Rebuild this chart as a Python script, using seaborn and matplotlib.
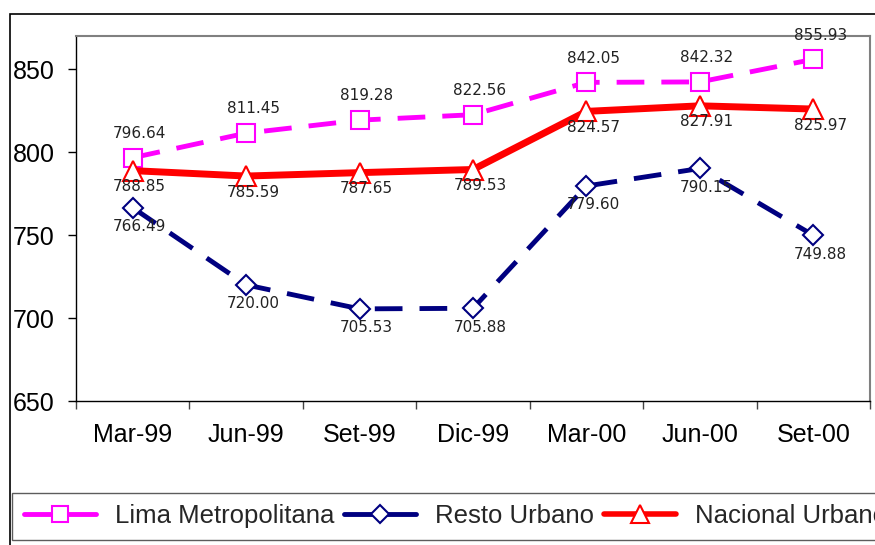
import matplotlib
matplotlib.use("Agg")
import matplotlib.pyplot as plt
import seaborn as sns
import pandas as pd
from matplotlib.lines import Line2D
from matplotlib.patches import Rectangle

# ---------------- data ----------------
periods = ["Mar-99", "Jun-99", "Set-99", "Dic-99", "Mar-00", "Jun-00", "Set-00"]
lima = [796.64, 811.45, 819.28, 822.56, 842.05, 842.32, 855.93]
resto = [766.49, 720.00, 705.53, 705.88, 779.60, 790.15, 749.88]
nacional = [788.85, 785.59, 787.65, 789.53, 824.57, 827.91, 825.97]
series_names = ["Lima Metropolitana", "Resto Urbano", "Nacional Urbano"]
y_ticks = [650, 700, 750, 800, 850]
title_text = "(Nuevos Soles)"

# ---------------- style ----------------
sns.set_theme(style="white")
plt.rcParams["font.family"] = ["Liberation Sans", "DejaVu Sans"]

W, H = 875, 545
fig = plt.figure(figsize=(W / 100, H / 100), dpi=100)
fig.patch.set_facecolor("white")
ax = fig.add_axes([76 / W, 1 - 401 / H, 794 / W, 365 / H])

xpos = list(range(len(periods)))
series_vals = [lima, resto, nacional]
styles = [
    dict(color="#FF00FF", marker="s", ms=13.5, lw=3.5, ls=(0, (5.7, 3.5)), dy=17.5, leg_lw=3.5, leg_ms=12),
    dict(color="#000080", marker="D", ms=10, lw=3.5, ls=(0, (5.7, 3.5)), dy=-13.5, leg_lw=3.5, leg_ms=9),
    dict(color="#FF0000", marker="^", ms=15, lw=5, ls="-", dy=-11.5, leg_lw=4, leg_ms=13),
]

for name, vals, st in zip(series_names, series_vals, styles):
    df = pd.DataFrame({"x": xpos, "y": vals})
    sns.lineplot(data=df, x="x", y="y", ax=ax, color=st["color"],
                 linewidth=st["lw"], linestyle=st["ls"], marker=st["marker"],
                 markersize=st["ms"], markerfacecolor="white",
                 markeredgecolor=st["color"], markeredgewidth=1.5,
                 legend=False, zorder=3)
    for xi, v in zip(xpos, vals):
        ax.annotate(f"{v:.2f}", (xi, v), xytext=(5, st["dy"]),
                    textcoords="offset points", ha="center", va="center",
                    fontsize=11, family="DejaVu Sans", color="#222222",
                    zorder=5)

# ---------------- axes ----------------
ax.set_xlim(-0.5, len(periods) - 0.5)
ax.set_ylim(650, 870)
ax.set_yticks(y_ticks)
ax.set_yticklabels([str(t) for t in y_ticks], fontsize=18)
ax.set_xticks(xpos)
ax.set_xticklabels(periods, fontsize=18)
ax.set_xticks([i - 0.5 for i in range(len(periods) + 1)], minor=True)
ax.set_xlabel("")
ax.set_ylabel("")
ax.tick_params(axis="y", which="major", left=True, length=5.5, width=1,
               pad=10, direction="out", color="black", labelcolor="black")
ax.tick_params(axis="x", which="major", bottom=True, length=0, pad=16,
               labelcolor="black")
ax.tick_params(axis="x", which="minor", bottom=True, length=5.5, width=1,
               direction="out", color="#444444")
ax.grid(False)
for s in ["left", "bottom"]:
    ax.spines[s].set_color("black")
    ax.spines[s].set_linewidth(1.0)
for s in ["top", "right"]:
    ax.spines[s].set_color("#808080")
    ax.spines[s].set_linewidth(1.5)

# ---------------- legend ----------------
handles = [
    Line2D([], [], color=st["color"], lw=st["leg_lw"], ls="-",
           marker=st["marker"], ms=st["leg_ms"], markerfacecolor="white",
           markeredgecolor=st["color"], markeredgewidth=1.5)
    for st in styles
]
leg = fig.legend(handles, series_names, loc="lower left",
                 bbox_to_anchor=(12 / W, 5 / H), ncol=3, fontsize=18.5,
                 handlelength=2.8, handletextpad=0.74, columnspacing=0.39,
                 borderpad=0.45, frameon=True, fancybox=False,
                 borderaxespad=0)
leg.get_frame().set_edgecolor("#333333")
leg.get_frame().set_linewidth(1.0)

# outer chart border (extends beyond the visible crop)
fig.add_artist(Rectangle((10 / W, -0.2), 2.0, 1.2 - 14 / H,
                         transform=fig.transFigure, fill=False,
                         edgecolor="black", linewidth=1.2, clip_on=False))

# title (mostly cut off at the top of the crop)
fig.text(271 / W, 1 + 5.5 / H, title_text, ha="center", va="baseline",
         fontsize=20, color="black")

fig.savefig("out.png", dpi=100)
